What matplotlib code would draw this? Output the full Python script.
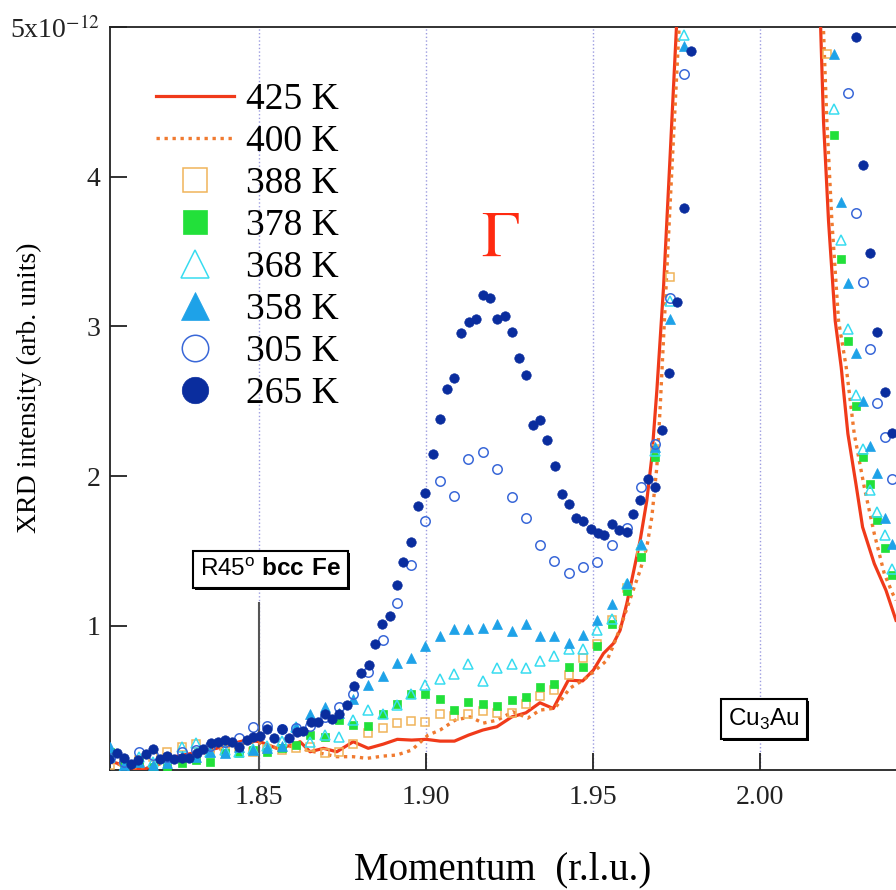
import matplotlib
matplotlib.use("Agg")
import numpy as np
import matplotlib.pyplot as plt
from matplotlib import patheffects

plt.rcParams['font.family'] = ['Liberation Serif', 'DejaVu Serif']
plt.rcParams['mathtext.fontset'] = 'stix'
# sans fonts for the boxed labels (used through math_fontfamily='custom')
plt.rcParams['mathtext.rm'] = 'Liberation Sans'
plt.rcParams['mathtext.bf'] = 'Liberation Sans:bold'

# ---- data: intensity in units of 1e-12, momentum in r.l.u. ----
# 425 K and 400 K scans (lines); the Cu3Au peak top is far off scale
q_425 = [1.8054, 1.8124, 1.8159, 1.8194, 1.8243, 1.8323, 1.8373, 1.8422, 1.8463, 1.8503,
         1.8553, 1.8602, 1.8623, 1.8653, 1.8693, 1.8733, 1.8782, 1.8827, 1.8872, 1.8914,
         1.8957, 1.9000, 1.9042, 1.9085, 1.9127, 1.9170, 1.9212, 1.9257, 1.9299, 1.9341,
         1.9381, 1.9426, 1.9469, 1.9501, 1.9531, 1.9561, 1.9581, 1.9601, 1.9621, 1.9641,
         1.9661, 1.9676, 1.9691, 1.9711, 1.9731, 1.9752, 1.9965, 2.0180, 2.0190, 2.0205,
         2.0225, 2.0243, 2.0263, 2.0287, 2.0307, 2.0342, 2.0377, 2.0407]
I_425 = [0.098, 0.049, 0.045, 0.083, 0.125, 0.160, 0.183, 0.216, 0.238, 0.227,
         0.183, 0.205, 0.227, 0.160, 0.183, 0.160, 0.227, 0.183, 0.211, 0.243,
         0.238, 0.243, 0.231, 0.231, 0.271, 0.305, 0.327, 0.393, 0.420, 0.487,
         0.449, 0.638, 0.633, 0.705, 0.816, 0.883, 0.971, 1.149, 1.360, 1.571,
         1.838, 2.127, 2.571, 3.260, 4.149, 5.100, 40.0, 5.100, 4.371, 3.705,
         3.038, 2.727, 2.283, 1.949, 1.660, 1.416, 1.238, 1.038]

q_400 = [1.8054, 1.8123, 1.8194, 1.8243, 1.8323, 1.8373, 1.8422, 1.8463, 1.8503, 1.8553,
         1.8602, 1.8643, 1.8683, 1.8733, 1.8782, 1.8823, 1.8871, 1.8912, 1.8957, 1.9006,
         1.9042, 1.9087, 1.9132, 1.9171, 1.9213, 1.9260, 1.9305, 1.9341, 1.9386, 1.9431,
         1.9470, 1.9500, 1.9542, 1.9561, 1.9581, 1.9620, 1.9641, 1.9661, 1.9676, 1.9691,
         1.9701, 1.9729, 1.9760, 1.9975, 2.0188, 2.0200, 2.0215, 2.0235, 2.0258, 2.0282,
         2.0312, 2.0342, 2.0372, 2.0397, 2.0407]
I_400 = [0.091, 0.051, 0.071, 0.105, 0.145, 0.171, 0.205, 0.225, 0.218, 0.185,
         0.198, 0.171, 0.151, 0.127, 0.127, 0.116, 0.131, 0.138, 0.171, 0.271,
         0.305, 0.371, 0.393, 0.351, 0.371, 0.427, 0.385, 0.438, 0.451, 0.585,
         0.638, 0.691, 0.771, 0.870, 0.985, 1.238, 1.371, 1.527, 1.727, 2.060,
         2.460, 3.738, 5.100, 40.0, 5.100, 4.371, 3.705, 3.038, 2.727, 2.283,
         1.927, 1.616, 1.349, 1.216, 1.171]

# coarse scan grid shared by 388-305 K, plus the points past the Cu3Au peak
q_scan = [1.8054, 1.8097, 1.8140, 1.8183, 1.8226, 1.8269, 1.8311, 1.8354, 1.8397, 1.8440,
          1.8483, 1.8525, 1.8568, 1.8611, 1.8654, 1.8697, 1.8740, 1.8782, 1.8827, 1.8870,
          1.8912, 1.8954, 1.8998, 1.9041, 1.9084, 1.9127, 1.9170, 1.9213, 1.9256, 1.9299,
          1.9341, 1.9384, 1.9428, 1.9471, 1.9513, 1.9557, 1.9601, 1.9643, 1.9686, 1.9729,
          1.9772,
          2.0200, 2.0220, 2.0242, 2.0263, 2.0286, 2.0307, 2.0329, 2.0350, 2.0373, 2.0394]
nan = np.nan
I_388 = [0.071, 0.091, 0.105, 0.125, 0.158, 0.193, 0.211, 0.171, 0.178, 0.191,
         0.158, 0.178, 0.171, 0.185, 0.191, 0.149, 0.160, 0.211, 0.283, 0.316,
         0.353, 0.365, 0.360, 0.411, 0.398, 0.411, 0.433, 0.418, 0.416, 0.478,
         0.531, 0.575, 0.671, 0.783, 0.878, 1.038, 1.251, 1.491, 2.185, 3.327,
         nan,
         4.82, nan, nan, nan, nan, nan, nan, nan, nan, nan]
I_378 = [0.158, 0.078, 0.091, 0.058, 0.050, 0.083, 0.105, 0.093, 0.149, 0.149,
         0.171, 0.160, 0.188, 0.205, 0.275, 0.261, 0.371, 0.338, 0.331, 0.411,
         0.478, 0.545, 0.545, 0.509, 0.438, 0.491, 0.478, 0.465, 0.505, 0.527,
         0.590, 0.611, 0.729, 0.723, 0.865, 1.011, 1.233, 1.460, 2.127, nan,
         nan,
         nan, 4.28, 3.45, 2.90, 2.47, 2.13, 1.95, 1.71, 1.52, 1.34]
I_368 = [0.125, 0.058, 0.125, 0.091, 0.118, 0.193, 0.216, 0.158, 0.171, 0.158,
         0.176, 0.198, 0.231, 0.327, 0.227, 0.271, 0.260, 0.371, 0.438, 0.411,
         0.471, 0.545, 0.605, 0.649, 0.681, 0.743, 0.633, 0.716, 0.743, 0.721,
         0.767, 0.798, 0.843, 0.843, 0.976, 1.049, 1.283, 1.538, 2.171, 3.171,
         4.949,
         nan, 4.45, 3.58, 2.98, 2.54, 2.18, 1.91, 1.76, 1.61, 1.38]
I_358 = [0.193, 0.071, 0.091, 0.071, 0.085, 0.131, 0.127, 0.158, 0.149, 0.193,
         0.171, 0.185, 0.198, 0.323, 0.411, 0.456, 0.418, 0.509, 0.605, 0.665,
         0.753, 0.789, 0.865, 0.931, 0.979, 0.979, 0.989, 1.013, 0.965, 1.010,
         0.931, 0.931, 0.887, 0.943, 1.040, 1.147, 1.289, 1.545, 2.193, 3.053,
         4.871,
         nan, 4.82, 3.83, 3.29, 2.82, 2.50, 2.20, 2.02, 1.72, 1.55]
I_305 = [0.118, 0.091, 0.158, 0.138, 0.125, 0.158, 0.171, 0.198, 0.225, 0.251,
         0.327, 0.331, 0.315, 0.316, 0.331, 0.391, 0.460, 0.545, 0.693, 0.909,
         1.151, 1.405, 1.701, 1.971, 1.871, 2.118, 2.161, 2.047, 1.861, 1.721,
         1.543, 1.433, 1.351, 1.396, 1.427, 1.543, 1.653, 1.927, 2.216, 3.187,
         4.683,
         nan, nan, nan, 4.56, 3.76, 3.30, 2.85, 2.49, 2.26, 1.98]

# 265 K was taken on a finer grid
q_265 = [1.8052, 1.8074, 1.8096, 1.8117, 1.8139, 1.8161, 1.8182, 1.8204, 1.8225, 1.8246,
         1.8269, 1.8290, 1.8313, 1.8333, 1.8355, 1.8376, 1.8397, 1.8419, 1.8441, 1.8463,
         1.8483, 1.8503, 1.8525, 1.8546, 1.8568, 1.8590, 1.8613, 1.8633, 1.8655, 1.8678,
         1.8699, 1.8719, 1.8740, 1.8763, 1.8784, 1.8805, 1.8828, 1.8847, 1.8869, 1.8892,
         1.8914, 1.8932, 1.8955, 1.8977, 1.8998, 1.9020, 1.9041, 1.9063, 1.9085, 1.9106,
         1.9128, 1.9150, 1.9170, 1.9193, 1.9213, 1.9236, 1.9257, 1.9278, 1.9299, 1.9320,
         1.9342, 1.9363, 1.9386, 1.9406, 1.9428, 1.9450, 1.9471, 1.9494, 1.9514, 1.9534,
         1.9558, 1.9579, 1.9601, 1.9621, 1.9642, 1.9665, 1.9687, 1.9707, 1.9728, 1.9751,
         1.9772, 1.9794,
         2.0286, 2.0307, 2.0329, 2.0350, 2.0373, 2.0394]
I_265 = [0.109, 0.153, 0.116, 0.078, 0.105, 0.145, 0.178, 0.111, 0.131, 0.109,
         0.120, 0.116, 0.149, 0.176, 0.216, 0.225, 0.240, 0.227, 0.193, 0.238,
         0.256, 0.267, 0.313, 0.253, 0.309, 0.253, 0.291, 0.296, 0.360, 0.356,
         0.411, 0.376, 0.411, 0.471, 0.598, 0.683, 0.738, 0.878, 1.016, 1.067,
         1.276, 1.427, 1.560, 1.803, 1.887, 2.149, 2.383, 2.583, 2.653, 2.956,
         3.033, 3.049, 3.211, 3.189, 3.049, 3.071, 2.960, 2.789, 2.676, 2.343,
         2.373, 2.243, 2.071, 1.878, 1.816, 1.720, 1.698, 1.649, 1.620, 1.609,
         1.683, 1.638, 1.627, 1.745, 1.838, 1.983, 1.927, 2.311, 2.687, 3.165,
         3.793, 4.838,
         4.93, 4.08, 3.49, 2.96, 2.56, 2.29]

x_ticks = [1.85, 1.90, 1.95, 2.00]
x_ticklabels = ['1.85', '1.90', '1.95', '2.00']
y_ticks = [1, 2, 3, 4, 5]
y_ticklabels = ['1', '2', '3', '4', r'5x10$^{-12}$']

fig = plt.figure(figsize=(8.96, 8.90), dpi=100)
ax = fig.add_axes([0.1228, 0.1348, 0.8772, 0.8349])

ax.plot(q_425, I_425, color='#f03a1a', lw=2.3, label='425 K', zorder=3)
ax.plot(q_400, I_400, color='#f07a30', lw=2.4, ls=(0, (1, 1.4)), label='400 K', zorder=3)

ax.plot(q_scan, I_388, ls='none', marker='s', ms=6.0, mfc='none', mec='#f0b45a',
        mew=1.1, label='388 K', zorder=4)
ax.plot(q_scan, I_378, ls='none', marker='s', ms=6.0, mfc='#22e03a', mec='#22e03a',
        mew=0.5, label='378 K', zorder=4)
ax.plot(q_scan, I_368, ls='none', marker='^', ms=7.0, mfc='none', mec='#38dcf0',
        mew=1.1, label='368 K', zorder=4)
ax.plot(q_scan, I_358, ls='none', marker='^', ms=7.0, mfc='#1ea2e8', mec='#1ea2e8',
        mew=0.5, label='358 K', zorder=4)
ax.plot(q_scan, I_305, ls='none', marker='o', ms=6.8, mfc='none', mec='#3a68d8',
        mew=1.1, label='305 K', zorder=5)
ax.plot(q_265, I_265, ls='none', marker='o', ms=6.8, mfc='#0a2d9e', mec='#0a2d9e',
        mew=0.5, label='265 K', zorder=6)

ax.set_xlim(1.8054, 2.0407)
ax.set_ylim(0.038, 5.0)

ax.set_xticks(x_ticks)
ax.set_xticklabels(x_ticklabels)
ax.set_yticks(y_ticks)
ax.set_yticklabels(y_ticklabels)
ax.tick_params(direction='in', length=12, width=1.3, labelsize=20, colors='#222222')
ax.tick_params(axis='x', pad=11)
ax.tick_params(axis='y', pad=7)
ax.grid(axis='x', ls=':', color='#9c9ce0', lw=1.0)
ax.set_axisbelow(True)

for side in ['left', 'bottom', 'top']:
    ax.spines[side].set_linewidth(1.3)
    ax.spines[side].set_color('#222222')
ax.spines['right'].set_visible(False)

ax.set_xlabel('Momentum  (r.l.u.)', fontsize=28)
ax.set_ylabel('XRD intensity (arb. units)', fontsize=20)
ax.xaxis.set_label_coords(0.5, -0.11)
ax.yaxis.set_label_coords(-0.087, 0.514)

ax.legend(loc='upper left', bbox_to_anchor=(0.058, 0.925), frameon=False, fontsize=27,
          numpoints=1, markerscale=2.8, handlelength=2.1, handletextpad=0.3,
          labelspacing=0.2, borderpad=0, borderaxespad=0)

# Bragg peak labels
box = dict(boxstyle='square,pad=0.3', fc='white', ec='black', lw=1.5)
shadow = [patheffects.withSimplePatchShadow(offset=(1.5, -1.5), shadow_rgbFace='black', alpha=1)]
t1 = ax.text(1.8535, 1.378, r'R45$^{\mathrm{o}}$ $\mathbf{bcc\ Fe}$', family='Liberation Sans',
             math_fontfamily='custom', fontsize=17.5, ha='center', va='center', bbox=box, zorder=7)
t1.get_bbox_patch().set_path_effects(shadow)
t2 = ax.text(2.0012, 0.378, r'Cu$_{\mathrm{3}}$Au', family='Liberation Sans',
             math_fontfamily='custom', fontsize=17.5, ha='center', va='center', bbox=box, zorder=7)
t2.get_bbox_patch().set_path_effects(shadow)
ax.vlines(1.85, 0.038, 1.16, color='#555555', lw=1.5, zorder=2)

ax.text(1.9222, 3.571, r'$\Gamma$', color='#ff2a10', fontsize=46, ha='center', va='center')

fig.savefig('out.png', dpi=100)
